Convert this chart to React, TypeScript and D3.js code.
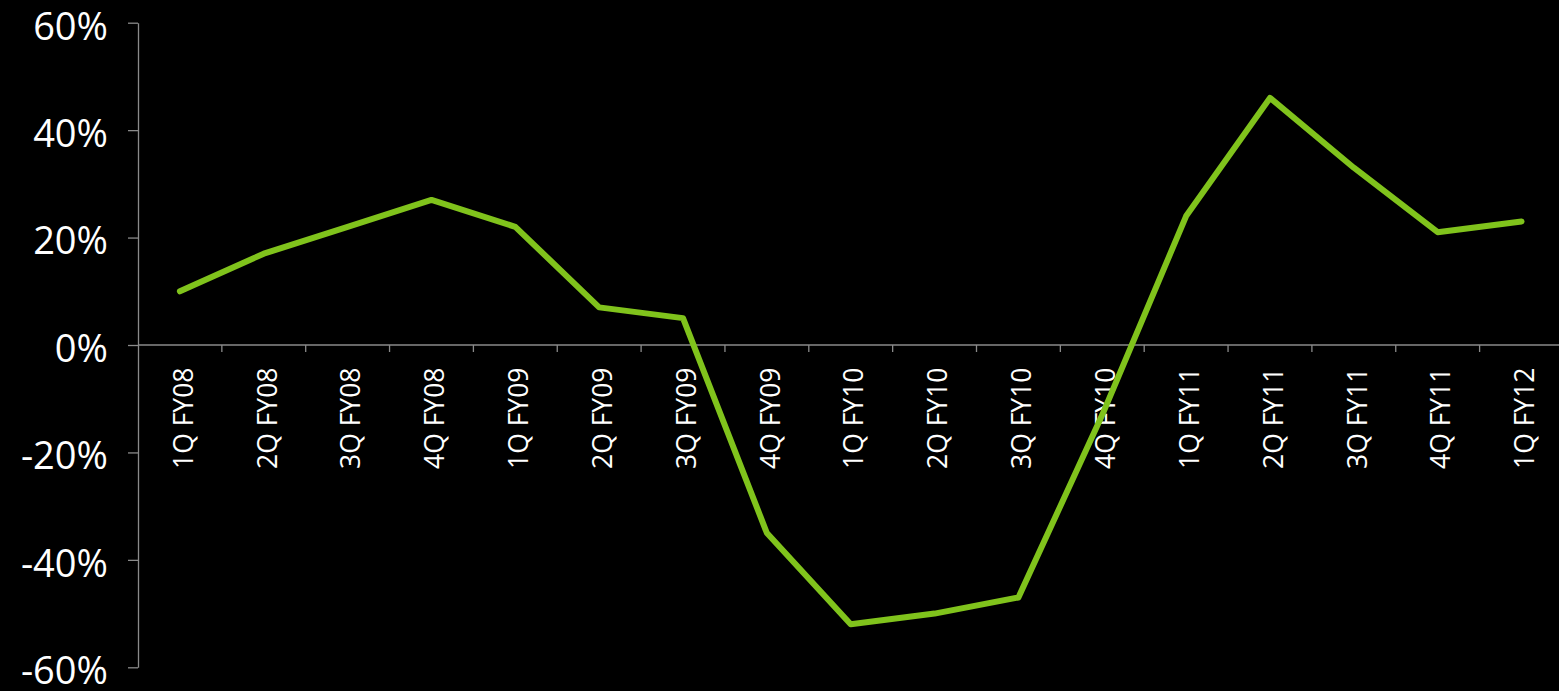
import React, { useEffect, useRef } from "react";
import * as d3 from "d3";

const categories = [
  "1Q FY08", "2Q FY08", "3Q FY08", "4Q FY08",
  "1Q FY09", "2Q FY09", "3Q FY09", "4Q FY09",
  "1Q FY10", "2Q FY10", "3Q FY10", "4Q FY10",
  "1Q FY11", "2Q FY11", "3Q FY11", "4Q FY11",
  "1Q FY12",
];
const growth = [10, 17, 22, 27, 22, 7, 5, -35, -52, -50, -47, -13, 24, 46, 33, 21, 23];
const yTicks = [-60, -40, -20, 0, 20, 40, 60];

const W = 1559;
const H = 691;

export default function App() {
  const ref = useRef<SVGSVGElement | null>(null);

  useEffect(() => {
    const svg = d3.select(ref.current);
    svg.selectAll("*").remove();

    const axisX = 138;
    const band = 83.85;
    const x = d3
      .scaleBand<string>()
      .domain(categories)
      .range([axisX, axisX + band * categories.length])
      .paddingInner(0)
      .paddingOuter(0);
    const y = d3.scaleLinear().domain([-60, 60]).range([667.3, 22.7]);

    const font = "'Open Sans', 'DejaVu Sans', sans-serif";
    const axisColor = "#8a8a8a";

    // Y axis
    const yAxis = d3
      .axisLeft(y)
      .tickValues(yTicks)
      .tickSize(10)
      .tickSizeOuter(0)
      .tickPadding(20)
      .tickFormat((d) => `${d}%`);
    const gy = svg.append("g").attr("transform", `translate(${axisX},0)`).call(yAxis);
    gy.select(".domain").attr("stroke", axisColor).attr("stroke-width", 1.3);
    gy.selectAll(".tick line").attr("stroke", axisColor).attr("stroke-width", 1.3);
    gy.selectAll(".tick text")
      .attr("fill", "#ffffff")
      .attr("font-family", font)
      .attr("font-size", 38)
      .attr("dy", "0.43em");

    // X axis (zero line)
    const y0 = y(0);
    svg
      .append("line")
      .attr("x1", axisX)
      .attr("x2", W)
      .attr("y1", y0)
      .attr("y2", y0)
      .attr("stroke", axisColor)
      .attr("stroke-width", 1.3);

    const boundaries = categories.map((c) => (x(c) as number) + x.bandwidth());
    svg
      .append("g")
      .selectAll("line")
      .data(boundaries)
      .join("line")
      .attr("x1", (d) => d)
      .attr("x2", (d) => d)
      .attr("y1", y0)
      .attr("y2", y0 + 7)
      .attr("stroke", axisColor)
      .attr("stroke-width", 1.3);

    svg
      .append("g")
      .selectAll("text")
      .data(categories)
      .join("text")
      .attr("transform", (d) => {
        const cx = (x(d) as number) + x.bandwidth() / 2;
        return `translate(${cx},${y0 + 22.5}) rotate(-90)`;
      })
      .attr("text-anchor", "end")
      .attr("dy", "0.48em")
      .attr("fill", "#ffffff")
      .attr("font-family", font)
      .attr("font-size", 26.5)
      .text((d) => d);

    // Line
    const line = d3
      .line<number>()
      .x((_, i) => (x(categories[i]) as number) + x.bandwidth() / 2)
      .y((d) => y(d));
    svg
      .append("path")
      .datum(growth)
      .attr("d", line)
      .attr("fill", "none")
      .attr("stroke", "#80c31c")
      .attr("stroke-width", 6)
      .attr("stroke-linejoin", "round")
      .attr("stroke-linecap", "round");
  }, []);

  return (
    <svg
      ref={ref}
      width={W}
      height={H}
      style={{ position: "absolute", left: 0, top: 0, background: "#000", display: "block" }}
    />
  );
}
